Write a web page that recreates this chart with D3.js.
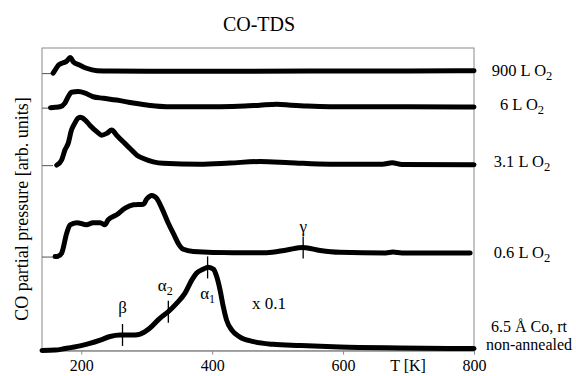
<!DOCTYPE html>
<html><head><meta charset="utf-8">
<script src="https://cdn.jsdelivr.net/npm/d3@7"></script>
<style>
html,body{margin:0;padding:0;background:#fff;}
text{font-family:"Liberation Serif","Times New Roman",serif;fill:#000;}
</style></head>
<body><svg id="chart" width="576" height="376"></svg>
<script>
// ---- data (T in K, signal in arb. units relative to each curve's baseline) ----
const seriesLabels = ["900 L O2", "6 L O2", "3.1 L O2", "0.6 L O2", "6.5 Å Co, rt / non-annealed"];
const seriesOffsets = [91.7, 80.3, 61.3, 31.1, 0];

const s900 = [[157,0],[160,1.0],[165,2.6],[172.5,3.4],[178,4.0],[183,5.2],[188,3.7],[198,2.6],[208,1.6],[224,0.8],[244,0.7],[400,0.6],[550,0.7],[700,0.7],[800,0.8]];
const s6 = [[153,0],[160,0.1],[167.5,0.3],[175,1.5],[180,3.6],[185,5.1],[195.5,5.3],[206,4.8],[218,3.6],[234,3.1],[254,2.5],[279.5,1.5],[305,0.7],[330,0.3],[412,0.3],[450,0.5],[473,0.8],[499,1.1],[520,0.8],[545,0.5],[580,0.3],[700,0.3],[800,0.2]];
const s31 = [[162.5,0],[170,1.7],[175,5.0],[180,7.2],[185,11.6],[190,13.8],[195,15.5],[198,15.8],[206,14.9],[213,13.2],[224,11.0],[231,9.9],[239,10.5],[246.5,11.6],[254,9.9],[264,7.7],[274.5,5.5],[285,3.3],[295,2.2],[310,1.1],[325,0.6],[381,0.3],[427,0.7],[473,1.2],[519,0.8],[580,0.3],[660,0.3],[675,0.8],[690,0.2],[800,0.1]];
const s06 = [[160,0],[164.4,0.1],[170,1.1],[177.7,7.7],[183,10.5],[193,11.2],[208,10.5],[218,11.2],[229,11.2],[236,10.5],[241,12.1],[254,13.8],[267,16.0],[279.5,17.1],[295,17.3],[300,19.0],[307.6,20.2],[315,19.3],[323,16.0],[333,11.0],[343,6.6],[348,4.4],[356,2.4],[371,1.7],[432,1.3],[483,1.3],[514,2.2],[539,3.0],[565,2.0],[595,1.4],[665,1.2],[676,1.5],[690,1.2],[794,1.2]];
const s65 = [[140,0.1],[160,0.2],[175,0.7],[198,1.6],[213,2.4],[229,3.5],[244,4.7],[259,5.2],[282,5.2],[290,5.5],[305,7.5],[320,10.7],[333,12.9],[346,15.7],[358.5,19.0],[369,23.4],[376,25.6],[386,26.9],[394,27.6],[402,26.9],[407,24.4],[412,20.1],[417,14.5],[422,10.1],[430,6.8],[442.5,4.5],[463,3.0],[493,2.1],[534,1.7],[595,1.2],[687,0.9],[800,0.7]];
const seriesData = [s900, s6, s31, s06, s65];

const xTicks = [200, 400, 600, 800];
const peakNames = ["β", "α2", "α1", "γ"];
const peakTemps = [263, 333, 393, 539];
const peakSeries = [4, 4, 4, 3];

// ---- layout ----
const svg = d3.select("#chart");
const m = {left: 42, top: 48, right: 102, bottom: 25.3};
const W = 576 - m.left - m.right, H = 376 - m.top - m.bottom;
const x = d3.scaleLinear().domain([140, 800]).range([m.left, m.left + W]);
const y = d3.scaleLinear().domain([0, 100]).range([m.top + H, m.top]);
const grey = "#8a8a8a";

// frame
svg.append("rect").attr("x", m.left).attr("y", m.top).attr("width", W).attr("height", H)
  .attr("fill", "none").attr("stroke", grey).attr("stroke-width", 1);

// x axis
const xAxis = svg.append("g").attr("transform", `translate(0,${m.top + H})`)
  .call(d3.axisBottom(x).tickValues(xTicks).tickSize(4).tickSizeOuter(0).tickPadding(5));
xAxis.select(".domain").attr("stroke", grey);
xAxis.selectAll(".tick line").attr("stroke", grey);
xAxis.selectAll("text").attr("font-size", 16);
svg.append("text").attr("x", 408).attr("y", 371).attr("text-anchor", "middle")
  .attr("font-size", 16).text("T [K]");

// baseline ticks on the left
const yAxis = svg.append("g").attr("transform", `translate(${m.left},0)`)
  .call(d3.axisRight(y).tickValues(seriesOffsets).tickSize(11).tickFormat(""));
yAxis.select(".domain").remove();
yAxis.selectAll(".tick line").attr("stroke", "#555");

// curves
const line = d3.line().x(d => x(d[0])).curve(d3.curveMonotoneX);
seriesData.forEach((s, i) => {
  const off = seriesOffsets[i];
  svg.append("path").datum(s)
    .attr("d", line.y(d => y(d[1] + off)))
    .attr("fill", "none").attr("stroke", "#000").attr("stroke-width", 5)
    .attr("stroke-linejoin", "round").attr("stroke-linecap", "round");
});

// peak markers
function valAt(s, t) {
  for (let k = 1; k < s.length; k++) {
    if (t <= s[k][0]) {
      const a = s[k - 1], b = s[k];
      return a[1] + (b[1] - a[1]) * (t - a[0]) / (b[0] - a[0]);
    }
  }
  return s[s.length - 1][1];
}
const labelPos = [[0, -22], [-3, -21], [0, 32], [0, -15]];
peakNames.forEach((n, i) => {
  const si = peakSeries[i];
  const cx = x(peakTemps[i]);
  const cy = y(valAt(seriesData[si], peakTemps[i]) + seriesOffsets[si]);
  svg.append("line").attr("x1", cx).attr("x2", cx).attr("y1", cy - 11).attr("y2", cy + 11)
    .attr("stroke", "#000").attr("stroke-width", 1.3);
  const t = svg.append("text").attr("x", cx + labelPos[i][0]).attr("y", cy + labelPos[i][1])
    .attr("text-anchor", "middle").attr("font-size", 17);
  t.append("tspan").text(n[0]);
  if (n.length > 1) t.append("tspan").attr("dy", 4).attr("font-size", 12).text(n.slice(1));
});
svg.append("text").attr("x", 252).attr("y", 309).attr("font-size", 17).text("x 0.1");

// right labels
const labelY = [76, 110, 167, 258];
seriesLabels.slice(0, 4).forEach((l, i) => {
  const t = svg.append("text").attr("x", 522).attr("y", labelY[i]).attr("text-anchor", "middle")
    .attr("font-size", 16.5);
  t.append("tspan").text(l.slice(0, -1));
  t.append("tspan").attr("dy", 4).attr("font-size", 12.5).text(l.slice(-1));
});
const bl = seriesLabels[4].split(" / ");
svg.append("text").attr("x", 529).attr("y", 332).attr("text-anchor", "middle").attr("font-size", 16).text(bl[0]);
svg.append("text").attr("x", 529).attr("y", 350).attr("text-anchor", "middle").attr("font-size", 16).text(bl[1]);

// title and y label
svg.append("text").attr("x", 259).attr("y", 31).attr("text-anchor", "middle").attr("font-size", 20).text("CO-TDS");
svg.append("text").attr("transform", "translate(28,209) rotate(-90)").attr("text-anchor", "middle")
  .attr("font-size", 18).text("CO partial pressure [arb. units]");
</script></body></html>
